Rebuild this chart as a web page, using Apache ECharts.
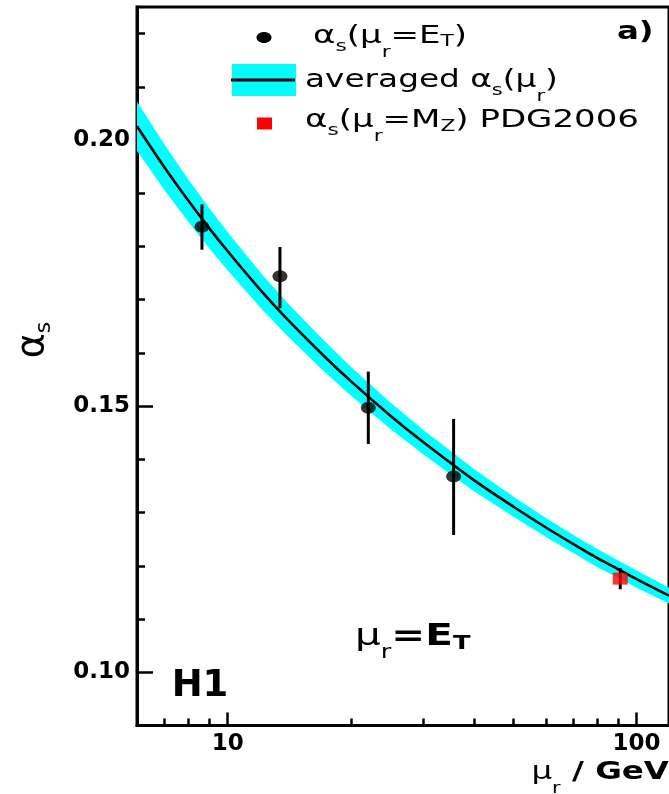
<!DOCTYPE html>
<html>
<head>
<meta charset="utf-8">
<script src="https://cdn.jsdelivr.net/npm/echarts@6/dist/echarts.min.js"></script>
<style>
html,body{margin:0;padding:0;background:#fff;}
#chart{width:669px;height:794px;}
</style>
</head>
<body>
<div id="chart"></div>
<script>
// ---- data ----
// averaged alpha_s(mu_r) curve (centre) and its band half-width, at these mu_r values (GeV)
var curveMu     = [6, 7, 8, 9, 10, 12, 14, 17, 20, 25, 30, 40, 50, 60, 70, 80, 91, 100, 120];
var curveAlpha  = [0.2026, 0.1949, 0.1887, 0.1835, 0.1791, 0.1719, 0.1663, 0.1598, 0.1547, 0.1482, 0.1433, 0.1361, 0.1311, 0.1272, 0.1241, 0.1215, 0.1192, 0.1175, 0.1144];
var bandHalf    = [0.0046, 0.0043, 0.0040, 0.0038, 0.0036, 0.0033, 0.0031, 0.0029, 0.0027, 0.0025, 0.0023, 0.0021, 0.0019, 0.0018, 0.0017, 0.0017, 0.0016, 0.0016, 0.0015];

// measured alpha_s(mu_r = E_T)
var pointMu     = [8.65, 13.42, 22.07, 35.68];
var pointAlpha  = [0.1837, 0.1744, 0.1497, 0.1368];
var pointLow    = [0.1794, 0.1684, 0.1429, 0.1258];
var pointHigh   = [0.1879, 0.1799, 0.1565, 0.1476];

// PDG2006 alpha_s(M_Z)
var pdgMu    = [91.19];
var pdgAlpha = [0.1176];
var pdgLow   = [0.1156];
var pdgHigh  = [0.1196];

// axis ticks
var xMajorTicks = [10, 100];
var xMinorTicks = [7, 8, 9, 20, 30, 40, 50, 60, 70, 80, 90];
var yMajorTicks = [0.10, 0.15, 0.20];
var yMinorTicks = [0.11, 0.12, 0.13, 0.14, 0.16, 0.17, 0.18, 0.19, 0.21, 0.22];

// ---- build ----
var bandData = curveMu.map(function (m, i) {
  return [m, +(curveAlpha[i] - bandHalf[i]).toFixed(5), +(curveAlpha[i] + bandHalf[i]).toFixed(5)];
});
var curveData = curveMu.map(function (m, i) { return [m, curveAlpha[i]]; });
var pointData = pointMu.map(function (m, i) { return [m, pointAlpha[i]]; });
var pointErr = pointMu.map(function (m, i) { return [m, pointLow[i], pointHigh[i]]; });
var pdgData = pdgMu.map(function (m, i) { return [m, pdgAlpha[i]]; });
var pdgErr = pdgMu.map(function (m, i) { return [m, pdgLow[i], pdgHigh[i]]; });

var FONT = 'DejaVu Sans';
var ellipsePath = 'path://M0,50 A50,50 0 1,1 100,50 A50,50 0 1,1 0,50 Z';

function errRender(params, api) {
  var x = api.value(0), lo = api.value(1), hi = api.value(2);
  var p1 = api.coord([x, lo]), p2 = api.coord([x, hi]);
  return { type: 'line', shape: { x1: p1[0], y1: p1[1], x2: p2[0], y2: p2[1] },
           style: { stroke: '#000', lineWidth: 3 } };
}
function bandRender(params, api) {
  if (params.dataIndex !== 0) return null;
  var pts = [];
  for (var i = 0; i < bandData.length; i++) pts.push(api.coord([bandData[i][0], bandData[i][2]]));
  for (var j = bandData.length - 1; j >= 0; j--) pts.push(api.coord([bandData[j][0], bandData[j][1]]));
  return { type: 'polygon', shape: { points: pts }, style: { fill: '#00FFFF', stroke: null } };
}

var subN = function (size, pad, bold) {
  return { fontSize: size, fontFamily: FONT, fontWeight: bold ? 'bold' : 'normal', fill: '#000',
           lineHeight: size, padding: [pad, 0, 0, 0], verticalAlign: 'middle' };
};
var norm = function (size, bold) {
  return { fontSize: size, fontFamily: FONT, fontWeight: bold ? 'bold' : 'normal', fill: '#000',
           lineHeight: size + 4, verticalAlign: 'middle' };
};

var chart = echarts.init(document.getElementById('chart'), null, { renderer: 'canvas' });
chart.setOption({
  animation: false,
  backgroundColor: '#fff',
  grid: { left: 137, top: 7, right: -3, bottom: 68.5, show: true, borderColor: '#000', borderWidth: 3, backgroundColor: 'transparent' },
  xAxis: [
    { type: 'log', logBase: 10, min: 6, max: 120, position: 'bottom',
      axisLine: { show: true, onZero: false, lineStyle: { color: '#000', width: 3 } },
      axisTick: { show: true, inside: true, length: 13, lineStyle: { color: '#000', width: 2.5 }, customValues: xMajorTicks },
      axisLabel: { show: true, customValues: xMajorTicks, color: '#000', fontFamily: FONT, fontWeight: 'bold', fontSize: 23, margin: 7 },
      splitLine: { show: false }, minorTick: { show: false } },
    { type: 'log', logBase: 10, min: 6, max: 120, position: 'bottom', gridIndex: 0,
      axisLine: { show: false },
      axisTick: { show: true, inside: true, length: 7, lineStyle: { color: '#000', width: 2.5 }, customValues: xMinorTicks },
      axisLabel: { show: false }, splitLine: { show: false } }
  ],
  yAxis: [
    { type: 'value', min: 0.09, max: 0.225, position: 'left',
      axisLine: { show: true, onZero: false, lineStyle: { color: '#000', width: 3 } },
      axisTick: { show: true, inside: true, length: 16, lineStyle: { color: '#000', width: 2.5 }, customValues: yMajorTicks },
      axisLabel: { show: true, customValues: yMajorTicks, formatter: function (v) { return v.toFixed(2); },
                   color: '#000', fontFamily: FONT, fontWeight: 'bold', fontSize: 23, margin: 7 },
      splitLine: { show: false } },
    { type: 'value', min: 0.09, max: 0.225, position: 'left', gridIndex: 0,
      axisLine: { show: false },
      axisTick: { show: true, inside: true, length: 8, lineStyle: { color: '#000', width: 2.5 }, customValues: yMinorTicks },
      axisLabel: { show: false }, splitLine: { show: false } }
  ],
  series: [
    { name: 'band', type: 'custom', renderItem: bandRender, data: bandData, encode: { x: 0, y: [1, 2] }, z: 1, silent: true },
    { name: 'averaged', type: 'line', data: curveData, smooth: 0.3, symbol: 'none',
      lineStyle: { color: '#000', width: 2.6 }, z: 2, silent: true },
    { name: 'pointErr', type: 'custom', renderItem: errRender, data: pointErr, encode: { x: 0, y: [1, 2] }, z: 3, silent: true },
    { name: 'points', type: 'scatter', data: pointData, symbol: ellipsePath, symbolSize: [15, 12],
      itemStyle: { color: '#000' }, z: 4, silent: true },
    { name: 'pdgErr', type: 'custom', renderItem: errRender, data: pdgErr, encode: { x: 0, y: [1, 2] }, z: 3, silent: true },
    { name: 'pdg', type: 'scatter', data: pdgData, symbol: 'rect', symbolSize: [15, 12],
      itemStyle: { color: '#FF0000' }, z: 5, silent: true }
  ],
  graphic: [
    // legend markers
    { type: 'ellipse', shape: { cx: 264, cy: 37.5, rx: 7.5, ry: 5.5 }, style: { fill: '#000' }, z: 10 },
    { type: 'rect', shape: { x: 232, y: 64, width: 64, height: 32 }, style: { fill: '#00FFFF' }, z: 10 },
    { type: 'line', shape: { x1: 231, y1: 80, x2: 295, y2: 80 }, style: { stroke: '#000', lineWidth: 3 }, z: 11 },
    { type: 'rect', shape: { x: 257, y: 117.5, width: 15, height: 12 }, style: { fill: '#FF0000' }, z: 10 },
    // legend texts
    { type: 'text', x: 313, y: 36, scaleX: 1.36, z: 10, style: {
        text: '{n|α}{s|s}{n|(μ}{r|r}{n|=E}{t|T}{n|)}', verticalAlign: 'middle', align: 'left',
        rich: { n: norm(25), s: subN(16, 22), r: subN(16, 34), t: subN(16, 12) } } },
    { type: 'text', x: 305, y: 80, scaleX: 1.31, z: 10, style: {
        text: '{n|averaged α}{s|s}{n|(μ}{r|r}{n|)}', verticalAlign: 'middle', align: 'left',
        rich: { n: norm(25), s: subN(16, 22), r: subN(16, 34) } } },
    { type: 'text', x: 305, y: 120, scaleX: 1.36, z: 10, style: {
        text: '{n|α}{s|s}{n|(μ}{r|r}{n|=M}{t|Z}{n|) PDG2006}', verticalAlign: 'middle', align: 'left',
        rich: { n: norm(25), s: subN(16, 22), r: subN(16, 34), t: subN(16, 14) } } },
    { type: 'text', x: 617, y: 33, scaleX: 1.35, z: 10, style: {
        text: 'a)', verticalAlign: 'middle', align: 'left', fill: '#000',
        fontFamily: FONT, fontWeight: 'bold', fontSize: 24 } },
    // H1
    { type: 'text', x: 200, y: 686, z: 10, style: {
        text: 'H1', verticalAlign: 'middle', align: 'center', fill: '#000',
        fontFamily: FONT, fontWeight: 'bold', fontSize: 37 } },
    // mu_r = E_T
    { type: 'text', x: 355, y: 637, scaleX: 1.35, z: 10, style: {
        text: '{m|μ}{r|r}{b|=E}{t|T}', verticalAlign: 'middle', align: 'left',
        rich: { m: norm(30), b: norm(30, true), r: subN(19, 32), t: subN(19, 14, true) } } },
    // x axis title
    { type: 'text', x: 669, y: 772, scaleX: 1.3, z: 10, style: {
        text: '{m|μ}{r|r}{b| / GeV}', verticalAlign: 'middle', align: 'right',
        rich: { m: norm(25), b: norm(25, true), r: subN(16, 34) } } },
    // y axis title
    { type: 'text', x: 33, y: 340, rotation: Math.PI / 2, z: 10, style: {
        text: '{n|α}{s|s}', verticalAlign: 'middle', align: 'center',
        rich: { n: norm(38), s: subN(22, 22) } } }
  ]
});
</script>
</body>
</html>
